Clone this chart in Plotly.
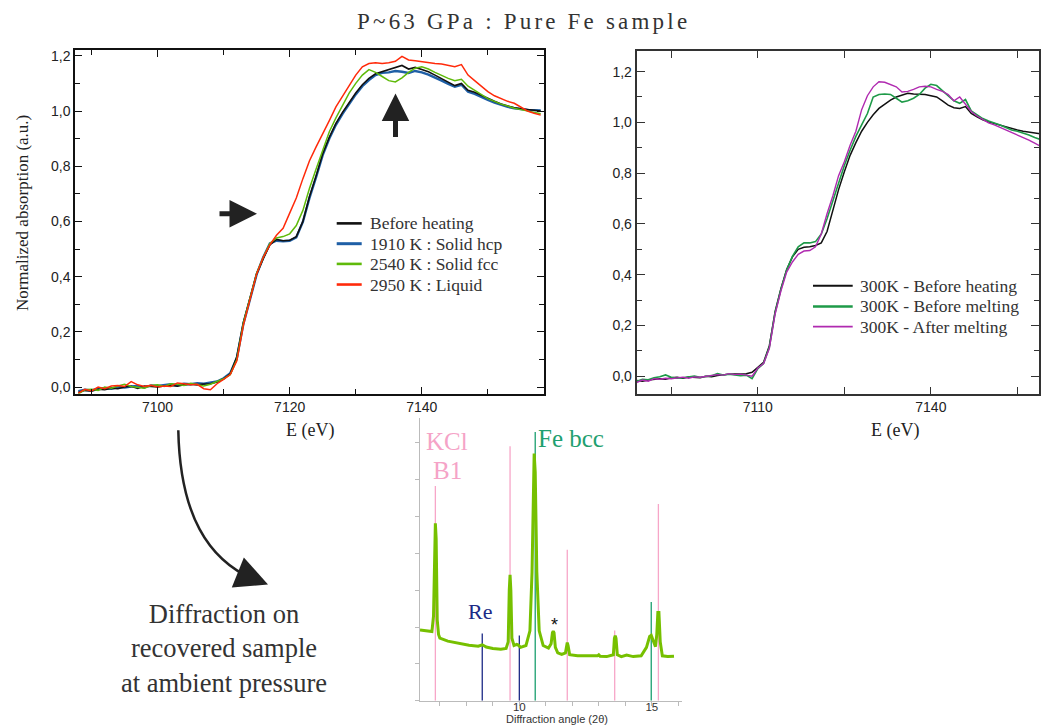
import plotly.graph_objects as go

W, H = 1044, 725

# ---------------- Left panel: P~63 GPa XANES at high T ----------------
E_left = list(range(7088, 7159))
before_heating = [-0.02, -0.012, -0.015, -0.008, -0.01, -0.004, -0.006, 0.0, 0.003, -0.005,
                  0.004, 0.002, 0.0, 0.004, 0.006, 0.003, 0.008, 0.01, 0.008, 0.011,
                  0.012, 0.018, 0.03, 0.048, 0.11, 0.235, 0.32, 0.41, 0.465, 0.515,
                  0.535, 0.53, 0.532, 0.545, 0.6, 0.69, 0.765, 0.845, 0.905, 0.955,
                  0.995, 1.03, 1.065, 1.095, 1.118, 1.135, 1.142, 1.15, 1.158, 1.165,
                  1.152, 1.158, 1.15, 1.142, 1.13, 1.118, 1.105, 1.092, 1.1, 1.075,
                  1.068, 1.056, 1.045, 1.035, 1.025, 1.018, 1.012, 1.008, 1.005, 1.002, 1.0]
solid_hcp = [-0.015, -0.01, -0.012, -0.006, -0.004, -0.006, 0.0, -0.002, 0.002, 0.004,
             -0.002, 0.006, 0.004, 0.008, 0.01, 0.006, 0.012, 0.01, 0.014, 0.012,
             0.016, 0.02, 0.032, 0.05, 0.105, 0.23, 0.318, 0.408, 0.47, 0.52,
             0.53, 0.528, 0.53, 0.542, 0.598, 0.685, 0.76, 0.84, 0.9, 0.95,
             0.99, 1.027, 1.06, 1.09, 1.112, 1.13, 1.138, 1.14, 1.145, 1.142,
             1.138, 1.145, 1.14, 1.132, 1.122, 1.11, 1.098, 1.088, 1.095, 1.07,
             1.062, 1.05, 1.04, 1.03, 1.022, 1.015, 1.01, 1.006, 1.004, 1.003, 1.002]
solid_fcc = [-0.025, -0.01, -0.008, -0.012, 0.0, -0.004, 0.004, 0.01, 0.002, 0.0,
             -0.004, 0.006, 0.008, 0.002, 0.012, 0.01, 0.006, 0.014, 0.008, 0.004,
             0.01, 0.02, 0.03, 0.045, 0.1, 0.232, 0.322, 0.412, 0.47, 0.52,
             0.54, 0.545, 0.555, 0.585, 0.64, 0.72, 0.79, 0.86, 0.925, 0.975,
             1.02, 1.065, 1.1, 1.13, 1.15, 1.14, 1.125, 1.11, 1.105, 1.12,
             1.14, 1.155, 1.16, 1.152, 1.14, 1.128, 1.118, 1.11, 1.115, 1.09,
             1.075, 1.058, 1.045, 1.035, 1.025, 1.018, 1.01, 1.005, 1.0, 0.995, 0.99]
liquid = [-0.022, -0.008, -0.014, 0.0, -0.006, 0.004, 0.006, 0.002, 0.02, 0.008,
          0.002, 0.006, 0.0, 0.004, 0.002, 0.015, 0.012, 0.008, 0.01, -0.006,
          -0.01, 0.012, 0.028, 0.045, 0.095, 0.225, 0.318, 0.41, 0.47, 0.515,
          0.55, 0.575, 0.63, 0.685, 0.755, 0.82, 0.87, 0.915, 0.965, 1.015,
          1.055, 1.09, 1.13, 1.16, 1.172, 1.175, 1.172, 1.175, 1.18, 1.198,
          1.185, 1.182, 1.178, 1.175, 1.172, 1.17, 1.165, 1.16, 1.168, 1.13,
          1.11, 1.09, 1.07, 1.055, 1.045, 1.035, 1.028, 1.015, 1.0, 0.992, 0.985]

# ---------------- Right panel: 300 K spectra ----------------
E_right = list(range(7089, 7160))
rt_before_heating = [-0.017, -0.02, -0.015, -0.012, -0.01, -0.012, -0.006, -0.004, -0.008, -0.003,
                     -0.005, -0.006, 0.0, -0.002, 0.003, 0.006, 0.008, 0.009, 0.008, 0.01,
                     0.015, 0.035, 0.055, 0.12, 0.255, 0.345, 0.42, 0.47, 0.5, 0.508,
                     0.51, 0.515, 0.525, 0.57, 0.655, 0.735, 0.805, 0.87, 0.92, 0.965,
                     1.0, 1.03, 1.055, 1.072, 1.088, 1.1, 1.108, 1.115, 1.112, 1.11,
                     1.11, 1.105, 1.1, 1.085, 1.068, 1.058, 1.055, 1.062, 1.035, 1.022,
                     1.01, 1.002, 0.995, 0.988, 0.982, 0.976, 0.97, 0.965, 0.962, 0.96, 0.955]
rt_before_melting = [-0.02, -0.012, -0.014, -0.006, -0.002, 0.005, -0.004, -0.008, -0.006, -0.002,
                     0.0, -0.004, -0.002, 0.002, 0.01, 0.004, 0.008, 0.006, 0.002, 0.004,
                     -0.01, 0.03, 0.05, 0.115, 0.25, 0.342, 0.418, 0.472, 0.51, 0.525,
                     0.525, 0.53, 0.56, 0.62, 0.69, 0.765, 0.83, 0.89, 0.945, 0.99,
                     1.035, 1.1, 1.11, 1.112, 1.11, 1.095, 1.08, 1.085, 1.095, 1.11,
                     1.135, 1.15, 1.145, 1.125, 1.105, 1.085, 1.075, 1.09, 1.045, 1.03,
                     1.015, 1.005, 0.998, 0.99, 0.98, 0.97, 0.965, 0.958, 0.95, 0.94, 0.932]
rt_after_melting = [-0.025, -0.015, -0.02, -0.01, -0.012, -0.008, -0.01, -0.006, -0.004, -0.008,
                    -0.003, -0.004, 0.0, 0.002, 0.006, 0.004, 0.01, 0.006, 0.008, 0.004,
                    0.0, 0.032, 0.05, 0.11, 0.245, 0.335, 0.41, 0.45, 0.48, 0.493,
                    0.495, 0.51, 0.56, 0.64, 0.71, 0.79, 0.845, 0.91, 0.965, 1.05,
                    1.105, 1.14, 1.16, 1.158, 1.15, 1.14, 1.12, 1.122, 1.13, 1.14,
                    1.142, 1.14, 1.13, 1.122, 1.11, 1.085, 1.1, 1.07, 1.043, 1.025,
                    1.01, 0.998, 0.99, 0.98, 0.97, 0.962, 0.952, 0.942, 0.93, 0.918, 0.906]

# ---------------- Bottom panel: diffraction on recovered sample ----------------
two_theta = [6.25, 6.5, 6.7, 6.76, 6.8, 6.83, 6.86, 6.9, 6.95, 7.0, 7.3, 7.7, 8.1, 8.45, 8.55,
             8.6, 8.65, 8.75, 9.0, 9.3, 9.5, 9.58, 9.62, 9.65, 9.68, 9.72, 9.8, 9.9, 9.95,
             10.05, 10.25, 10.4, 10.48, 10.53, 10.56, 10.6, 10.66, 10.75, 10.9, 11.1, 11.2,
             11.25, 11.28, 11.31, 11.36, 11.45, 11.6, 11.74, 11.78, 11.81, 11.84, 11.9, 12.2,
             12.6, 12.95, 13.0, 13.05, 13.3, 13.55, 13.59, 13.62, 13.65, 13.7, 13.85, 14.05,
             14.3, 14.6, 14.8, 14.92, 14.98, 15.06, 15.14, 15.19, 15.23, 15.27, 15.32, 15.4,
             15.6, 15.84]
intensity = [1.92, 1.89, 1.88, 2.3, 4.5, 4.82, 4.4, 2.2, 1.8, 1.7, 1.62, 1.56, 1.51, 1.48, 1.5,
             1.52, 1.5, 1.46, 1.42, 1.4, 1.42, 1.6, 3.0, 3.42, 3.0, 1.7, 1.5, 1.53, 1.52,
             1.45, 1.5, 1.9, 3.5, 6.3, 6.71, 6.2, 3.5, 1.9, 1.5, 1.43, 1.55,
             1.85, 1.89, 1.85, 1.45, 1.3, 1.26, 1.3, 1.55, 1.58, 1.5, 1.25, 1.22,
             1.21, 1.22, 1.25, 1.21, 1.2, 1.25, 1.7, 1.77, 1.7, 1.25, 1.2, 1.24,
             1.2, 1.22, 1.45, 1.75, 1.78, 1.65, 1.47, 1.8, 2.4, 2.4, 1.6, 1.22,
             1.2, 1.21]
kcl_pos = [6.83, 9.65, 11.81, 13.6, 15.25]
kcl_h = [5.83, 6.91, 4.10, 1.91, 5.34]
fe_pos = [10.6, 14.98]
fe_h = [7.3, 2.68]
re_pos = [8.6, 10.0]
re_h = [1.83, 1.77]

SERIF = "Liberation Serif, Times New Roman, serif"
SANS = "Liberation Sans, Arial, sans-serif"


def px(x):
    return x / W


def py(y):
    return 1 - y / H


def sticks(pos, h):
    xs, ys = [], []
    for p, v in zip(pos, h):
        xs += [p, p, None]
        ys += [0, v, None]
    return xs, ys


fig = go.Figure()

left_series = [("Before heating", before_heating, "#111111", 1.6, 2.6),
               ("1910 K : Solid hcp", solid_hcp, "#1f5fa6", 2.4, 3.0),
               ("2540 K : Solid fcc", solid_fcc, "#5fba0a", 1.5, 2.6),
               ("2950 K : Liquid", liquid, "#ff2a0a", 1.5, 2.6)]
draw_order = [1, 0, 2, 3]  # blue beneath black, as in the original
for i in draw_order:
    name, ys, col, wd, _ = left_series[i]
    fig.add_trace(go.Scatter(x=E_left, y=ys, mode="lines", name=name,
                             line=dict(color=col, width=wd), xaxis="x", yaxis="y",
                             showlegend=False))

right_series = [("300K - Before heating", rt_before_heating, "#111111", 1.5, 2.0),
                ("300K - Before melting", rt_before_melting, "#1e9a48", 1.6, 2.4),
                ("300K - After melting", rt_after_melting, "#b02ab0", 1.4, 1.8)]
for name, ys, col, wd, _ in right_series:
    fig.add_trace(go.Scatter(x=E_right, y=ys, mode="lines", name=name,
                             line=dict(color=col, width=wd), xaxis="x2", yaxis="y2",
                             showlegend=False))

for pos, h, col in [(kcl_pos, kcl_h, "#f7a6c8"), (fe_pos, fe_h, "#1a9e6e"), (re_pos, re_h, "#1c2a86")]:
    xs, ys = sticks(pos, h)
    fig.add_trace(go.Scatter(x=xs, y=ys, mode="lines", line=dict(color=col, width=1.3),
                             xaxis="x3", yaxis="y3", showlegend=False, hoverinfo="skip"))
fig.add_trace(go.Scatter(x=two_theta, y=intensity, mode="lines",
                         line=dict(color="#76c000", width=3), xaxis="x3", yaxis="y3",
                         showlegend=False))

tickfont = dict(family=SANS, size=14, color="#222")
common_ax = dict(showline=True, linecolor="#111", linewidth=1.5, mirror="ticks",
                 ticks="inside", tickcolor="#111", tickwidth=1.3, showgrid=False,
                 zeroline=False, tickfont=tickfont)
right_ax = {**common_ax, "linecolor": "#333", "linewidth": 2, "tickcolor": "#333"}

fig.update_layout(
    width=W, height=H, margin=dict(l=0, r=0, t=0, b=0),
    paper_bgcolor="white", plot_bgcolor="white",
    separators=", ", showlegend=False,
    xaxis=dict(domain=[px(75), px(544)], range=[7087.5, 7158.5], anchor="y",
               tick0=7100, dtick=20, ticklen=7, tickformat="d",
               minor=dict(dtick=10, tick0=7100, ticklen=5, ticks="inside", tickcolor="#111"),
               **common_ax),
    yaxis=dict(domain=[py(393.3), py(48.3)], range=[-0.024, 1.2206], anchor="x",
               tick0=0, dtick=0.2, ticklen=7, tickformat=".1f",
               minor=dict(dtick=0.1, ticklen=5, ticks="inside", tickcolor="#111"),
               **common_ax),
    xaxis2=dict(domain=[px(636.7), px(1039.3)], range=[7089.0, 7158.8], anchor="y2",
                tick0=7110, dtick=30, ticklen=7, tickformat="d",
                minor=dict(dtick=15, tick0=7110, ticklen=7, ticks="inside", tickcolor="#333"),
                **right_ax),
    yaxis2=dict(domain=[py(393.3), py(49)], range=[-0.069, 1.282], anchor="x2",
                tick0=0, dtick=0.2, ticklen=8, tickformat=".1f",
                minor=dict(dtick=0.1, ticklen=5, ticks="inside", tickcolor="#333"),
                **right_ax),
    xaxis3=dict(domain=[px(420), px(681.7)], range=[6.25, 16.13], anchor="y3",
                showline=True, linecolor="#bbbbbb", linewidth=1.2, ticks="outside",
                tickcolor="#bbbbbb", ticklen=4, tick0=0, dtick=5, showgrid=False, zeroline=False,
                ticklabelstandoff=-9,
                minor=dict(dtick=1, ticklen=4, ticks="outside", tickcolor="#bbbbbb"),
                tickfont=dict(family=SANS, size=11.5, color="#333")),
    yaxis3=dict(domain=[py(701.7), py(418)], range=[0, 7.67], anchor="x3",
                showline=True, linecolor="#bbbbbb", linewidth=1.2, ticks="outside",
                tickcolor="#bbbbbb", ticklen=4, dtick=1, showticklabels=False,
                showgrid=False, zeroline=False),
)

ann = []
ann.append(dict(x=px(523), y=py(20),
                text="<span style='letter-spacing:3.2px'>P~63 GPa : Pure Fe sample</span>",
                font=dict(family=SERIF, size=23, color="#333")))
ann.append(dict(x=px(22), y=py(212), text="Normalized absorption (a.u.)", textangle=-90,
                font=dict(family=SERIF, size=17, color="#222")))
ann.append(dict(x=px(310), y=py(430), text="E (eV)", font=dict(family=SERIF, size=18, color="#222")))
ann.append(dict(x=px(895), y=py(430), text="E (eV)", font=dict(family=SERIF, size=18, color="#222")))
ann.append(dict(x=px(224), y=py(649), text="Diffraction on<br>recovered sample<br>at ambient pressure",
                font=dict(family=SERIF, size=26.5, color="#333")))
ann.append(dict(x=px(447), y=py(441), text="KCl", font=dict(family=SERIF, size=25, color="#f5a3c7")))
ann.append(dict(x=px(447), y=py(470), text="B1", font=dict(family=SERIF, size=25, color="#f5a3c7")))
ann.append(dict(x=px(571), y=py(438), text="Fe bcc", font=dict(family=SERIF, size=25, color="#1fa070")))
ann.append(dict(x=px(480), y=py(612), text="Re", font=dict(family=SERIF, size=22, color="#1c2a86")))
ann.append(dict(x=px(554), y=py(626), text="*", font=dict(family=SANS, size=18, color="#111")))
ann.append(dict(x=px(557), y=py(719.5), text="Diffraction angle (2θ)",
                font=dict(family=SANS, size=11, color="#333")))

# hand-drawn legends (sample line + label), as in the original figure
legend_shapes = []
left_rows = [222.3, 242.7, 263.0, 283.7]
for (name, _, col, _, lw), yy in zip(left_series, left_rows):
    legend_shapes.append(dict(type="line", xref="paper", yref="paper",
                              x0=px(336.7), x1=px(361.7), y0=py(yy), y1=py(yy),
                              line=dict(color=col, width=lw)))
    ann.append(dict(x=px(368), y=py(yy), text=name, xanchor="left",
                    font=dict(family=SERIF, size=17.5, color="#333")))
right_rows = [285.0, 305.7, 326.0]
for (name, _, col, _, lw), yy in zip(right_series, right_rows):
    legend_shapes.append(dict(type="line", xref="paper", yref="paper",
                              x0=px(813), x1=px(852.7), y0=py(yy), y1=py(yy),
                              line=dict(color=col, width=lw)))
    ann.append(dict(x=px(857.7), y=py(yy), text=name, xanchor="left",
                    font=dict(family=SERIF, size=17.5, color="#333")))

for a in ann:
    a.setdefault("xanchor", "center")
    a.update(xref="paper", yref="paper", showarrow=False, yanchor="middle")

arrows = [
    dict(x=px(257), y=py(212.7), ax=-39, ay=0, arrowwidth=5, arrowsize=1.1),
    dict(x=px(395.5), y=py(92), ax=0, ay=45, arrowwidth=5, arrowsize=1.1),
    dict(x=px(268), y=py(585), ax=-20, ay=-8, arrowwidth=2.5, arrowsize=2.6),
]
for a in arrows:
    a.update(xref="paper", yref="paper", axref="pixel", ayref="pixel", showarrow=True,
             arrowhead=2, arrowcolor="#222", text="")
    ann.append(a)

fig.update_layout(annotations=ann)

path = "M {} {} C {} {}, {} {}, {} {}".format(
    px(178.3), py(430), px(180), py(515), px(208), py(560), px(254), py(580))
shapes = [dict(type="path", xref="paper", yref="paper", path=path,
               line=dict(color="#222", width=2.5))] + legend_shapes
fig.update_layout(shapes=shapes)

fig.write_html("out.html", config={"displayModeBar": False},
               post_script="document.body.style.margin='0px';")
